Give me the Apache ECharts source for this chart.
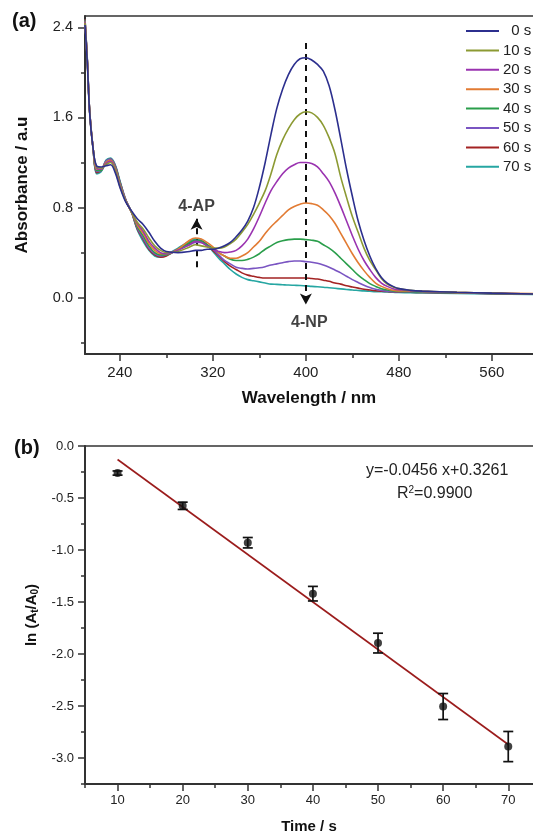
<!DOCTYPE html>
<html>
<head>
<meta charset="utf-8">
<script src="https://cdn.jsdelivr.net/npm/echarts@6/dist/echarts.min.js"></script>
<style>html,body{margin:0;padding:0;background:#fff}#c{width:533px;height:835px}</style>
</head>
<body>
<div id="c"></div>
<script>
// ---------- (a) UV-vis spectra ----------
const wavelengths = [210,212,214,217,220,224,228,232,236,240,245,250,255,260,265,270,275,280,290,300,305,310,315,320,325,330,335,340,345,350,355,360,365,370,375,380,385,390,395,400,405,410,415,420,425,430,435,440,445,450,455,460,465,470,475,480,490,500,530,560,600];
const seriesNames = ['0 s','10 s','20 s','30 s','40 s','50 s','60 s','70 s'];
const abs0s  = [2.42,2.08,1.64,1.32,1.17, 1.16,1.17,1.18,1.11,0.98, 0.85,0.77,0.70,0.65,0.58, 0.50,0.44,0.41,0.40,0.41, 0.42,0.42,0.43,0.43,0.44, 0.46,0.49,0.54,0.60,0.68, 0.80,0.98,1.20,1.45,1.68, 1.85,1.98,2.07,2.12,2.13, 2.11,2.07,2.01,1.88,1.67, 1.41,1.14,0.90,0.68,0.51, 0.37,0.26,0.18,0.13,0.10, 0.08,0.065,0.058,0.048,0.040, 0.032];
const abs10s = [2.44,2.09,1.65,1.32,1.16, 1.15,1.18,1.20,1.13,0.99, 0.86,0.76,0.67,0.61,0.53, 0.46,0.42,0.40,0.41,0.45, 0.47,0.46,0.45,0.44,0.44, 0.45,0.48,0.52,0.58,0.65, 0.74,0.84,0.95,1.10,1.27, 1.40,1.50,1.58,1.63,1.65, 1.64,1.60,1.53,1.42,1.28, 1.07,0.89,0.72,0.58,0.44, 0.33,0.25,0.17,0.12,0.095, 0.08,0.065,0.058,0.047,0.040, 0.032];
const abs20s = [2.45,2.10,1.65,1.32,1.15, 1.14,1.19,1.21,1.14,1.00, 0.86,0.76,0.66,0.59,0.50, 0.44,0.40,0.39,0.42,0.47, 0.50,0.49,0.46,0.43,0.41, 0.40,0.405,0.42,0.46,0.52, 0.61,0.72,0.84,0.95,1.03, 1.10,1.15,1.18,1.20,1.20, 1.19,1.16,1.10,1.03,0.93, 0.81,0.68,0.55,0.43,0.33, 0.25,0.18,0.13,0.10,0.08, 0.07,0.062,0.056,0.046,0.040, 0.032];
const abs30s = [2.45,2.10,1.65,1.32,1.14, 1.14,1.20,1.22,1.15,1.01, 0.86,0.76,0.645,0.57,0.48, 0.42,0.39,0.39,0.43,0.51, 0.53,0.52,0.49,0.45,0.40, 0.37,0.35,0.35,0.37,0.40, 0.45,0.50,0.57,0.63,0.68, 0.73,0.78,0.81,0.83,0.84, 0.835,0.82,0.78,0.73,0.66, 0.57,0.48,0.39,0.31,0.24, 0.18,0.13,0.10,0.08,0.066, 0.06,0.058,0.055,0.047,0.042, 0.036];
const abs40s = [2.46,2.10,1.65,1.32,1.13, 1.13,1.20,1.22,1.16,1.02, 0.86,0.76,0.63,0.55,0.46, 0.40,0.38,0.38,0.43,0.49, 0.51,0.50,0.47,0.44,0.40, 0.37,0.34,0.33,0.33,0.34, 0.36,0.39,0.43,0.46,0.49, 0.505,0.515,0.52,0.52,0.515, 0.51,0.50,0.47,0.44,0.40, 0.35,0.30,0.25,0.20,0.16, 0.125,0.10,0.08,0.068,0.06, 0.056,0.052,0.05,0.044,0.038, 0.03];
const abs50s = [2.46,2.11,1.66,1.32,1.12, 1.13,1.21,1.23,1.17,1.03, 0.87,0.76,0.62,0.53,0.44, 0.39,0.37,0.38,0.43,0.47, 0.49,0.49,0.46,0.43,0.38, 0.33,0.30,0.27,0.26,0.255, 0.26,0.265,0.275,0.29,0.30, 0.31,0.32,0.325,0.325,0.32, 0.315,0.305,0.29,0.27,0.245, 0.22,0.19,0.16,0.135,0.11, 0.09,0.075,0.065,0.058,0.054, 0.052,0.05,0.048,0.043,0.037, 0.03];
const abs60s = [2.47,2.11,1.66,1.32,1.11, 1.13,1.21,1.23,1.17,1.03, 0.87,0.76,0.61,0.52,0.43, 0.38,0.36,0.37,0.43,0.48, 0.50,0.50,0.47,0.42,0.37, 0.32,0.28,0.25,0.22,0.20, 0.19,0.18,0.175,0.175,0.175, 0.175,0.175,0.175,0.175,0.175, 0.17,0.165,0.155,0.145,0.13, 0.12,0.105,0.095,0.085,0.075, 0.068,0.062,0.058,0.055,0.052, 0.05,0.048,0.046,0.042,0.036, 0.03];
const abs70s = [2.47,2.12,1.66,1.32,1.10, 1.12,1.22,1.24,1.18,1.04, 0.87,0.76,0.60,0.50,0.42, 0.37,0.36,0.38,0.44,0.50, 0.52,0.51,0.47,0.41,0.35, 0.30,0.25,0.21,0.18,0.16, 0.15,0.14,0.13,0.12,0.118, 0.115,0.112,0.11,0.108,0.105, 0.10,0.097,0.093,0.088,0.083, 0.078,0.073,0.068,0.064,0.06, 0.057,0.054,0.052,0.05,0.048, 0.046,0.044,0.042,0.038,0.033, 0.027];
const spectra = [abs0s,abs10s,abs20s,abs30s,abs40s,abs50s,abs60s,abs70s];
const specColors = ['#2c2f8e','#8c9a33','#9a33b0','#e27b33','#2a9e4b','#7a55c2','#a32323','#26a6a2'];
const wlRange = [210, 595.4];
const wlTicks = [240,320,400,480,560];
const wlMinor = [280,360,440,520];
const absRange = [-0.5, 2.5];
const absTicks = [0.0,0.8,1.6,2.4];
const absMinor = [-0.4,0.4,1.2,2.0];
// arrows: [x, yStart, yEnd]
const arrows = [[400,2.26,-0.06],[306,0.27,0.70]];
const arrowLabels = [[306,0.81,'4-AP'],[403,-0.225,'4-NP']];

// ---------- (b) kinetics ----------
const times = [10,20,30,40,50,60,70];
const lnRatio = [-0.26,-0.575,-0.93,-1.42,-1.895,-2.505,-2.89];
const lnErr = [0.02,0.035,0.05,0.07,0.095,0.125,0.145];
const fitX = [10,70];
const fitY = [-0.13,-2.87];
const tRange = [5, 73.8];
const tTicks = [10,20,30,40,50,60,70];
const tMinor = [5,15,25,35,45,55,65];
const lnRange = [-3.25, 0];
const lnTicks = [0,-0.5,-1.0,-1.5,-2.0,-2.5,-3.0];
const lnMinor = [-0.25,-0.75,-1.25,-1.75,-2.25,-2.75,-3.25];
const fitText1 = 'y=-0.0456 x+0.3261';

const FONT = '"Liberation Sans", Arial, sans-serif';
const AX = '#333';

const chart = echarts.init(document.getElementById('c'), null, {renderer:'canvas'});

function majorAxis(extra){
  return Object.assign({
    type:'value',
    axisLine:{show:true, onZero:false, lineStyle:{color:AX, width:2}},
    axisTick:{show:true, inside:false, length:7, lineStyle:{color:AX, width:1.5}},
    splitLine:{show:false},
    axisLabel:{color:'#222', fontFamily:FONT}
  }, extra);
}
function minorAxis(extra){
  return Object.assign({
    type:'value',
    axisLine:{show:false, onZero:false},
    axisTick:{show:true, inside:false, length:4, lineStyle:{color:AX, width:1.5}},
    splitLine:{show:false},
    axisLabel:{show:false}
  }, extra);
}
function frameAxis(extra){
  return Object.assign({
    type:'value', position:'top',
    axisLine:{show:true, onZero:false, lineStyle:{color:AX, width:1.6}},
    axisTick:{show:false}, axisLabel:{show:false}, splitLine:{show:false}
  }, extra);
}

const specSeries = spectra.map((arr, i) => ({
  name: seriesNames[i],
  type:'line',
  xAxisIndex:0, yAxisIndex:0,
  data: wavelengths.map((w, j) => [w, arr[j]]),
  showSymbol:false,
  smooth:0.35,
  lineStyle:{width:1.6, color:specColors[i]},
  itemStyle:{color:specColors[i]},
  z: 10 - i,
  silent:true
}));

specSeries[0].markLine = {
  silent:true,
  symbol:['none','arrow'],
  symbolSize:[9,11],
  label:{show:false},
  lineStyle:{type:[6,5], color:'#111', width:2},
  data: arrows.map(a => [{coord:[a[0],a[1]], symbol:'none'},{coord:[a[0],a[2]], symbol:'arrow'}])
};

const labelSeries = {
  type:'scatter', xAxisIndex:0, yAxisIndex:0,
  symbolSize:0,
  data: arrowLabels,
  label:{show:true, position:'inside', formatter:p=>p.value[2], fontSize:16, fontWeight:'bold', color:'#111', fontFamily:FONT},
  silent:true, z:20
};

const option = {
  animation:false,
  backgroundColor:'#fff',
  textStyle:{fontFamily:FONT},
  grid:[
    {left:85, top:16, right:0, bottom:481, containLabel:false},
    {left:85, top:446, right:0, bottom:49, containLabel:false}
  ],
  legend:{
    data:seriesNames,
    orient:'vertical',
    left:466, top:23,
    padding:0,
    icon:'rect', itemWidth:33, itemHeight:2,
    itemGap:3.4,
    formatter: n => n.length < 4 ? '\u2007' + n : n,
    textStyle:{fontSize:15, color:'#222', fontFamily:FONT, lineHeight:16, padding:[0,0,0,-1]},
    selectedMode:false
  },
  xAxis:[
    majorAxis({gridIndex:0, min:wlRange[0], max:wlRange[1], position:'bottom',
      name:'Wavelength / nm', nameLocation:'middle', nameGap:36,
      nameTextStyle:{fontSize:17, fontWeight:'bold', color:'#111', fontFamily:FONT},
      axisTick:{show:true, inside:false, length:7, lineStyle:{color:AX, width:1.5}, customValues:wlTicks},
      axisLabel:{color:'#222', fontFamily:FONT, fontSize:15, margin:11, customValues:wlTicks}}),
    minorAxis({gridIndex:0, min:wlRange[0], max:wlRange[1], position:'bottom',
      axisTick:{show:true, inside:false, length:4, lineStyle:{color:AX, width:1.5}, customValues:wlMinor}}),
    majorAxis({gridIndex:1, min:tRange[0], max:tRange[1], position:'bottom',
      name:'Time / s', nameLocation:'middle', nameGap:35,
      nameTextStyle:{fontSize:15, fontWeight:'bold', color:'#111', fontFamily:FONT},
      axisTick:{show:true, inside:false, length:7, lineStyle:{color:AX, width:1.5}, customValues:tTicks},
      axisLabel:{color:'#222', fontFamily:FONT, fontSize:13, margin:10, customValues:tTicks}}),
    minorAxis({gridIndex:1, min:tRange[0], max:tRange[1], position:'bottom',
      axisTick:{show:true, inside:false, length:4, lineStyle:{color:AX, width:1.5}, customValues:tMinor}}),
    frameAxis({gridIndex:0, min:wlRange[0], max:wlRange[1]}),
    frameAxis({gridIndex:1, min:tRange[0], max:tRange[1]})
  ],
  yAxis:[
    majorAxis({gridIndex:0, min:absRange[0], max:absRange[1], position:'left',
      name:'Absorbance / a.u', nameLocation:'middle', nameGap:54, nameRotate:90,
      nameTextStyle:{fontSize:17, fontWeight:'bold', color:'#111', fontFamily:FONT},
      axisTick:{show:true, inside:false, length:7, lineStyle:{color:AX, width:1.5}, customValues:absTicks},
      axisLabel:{color:'#222', fontFamily:FONT, fontSize:14.5, margin:12, customValues:absTicks, formatter:v=>v.toFixed(1)}}),
    minorAxis({gridIndex:0, min:absRange[0], max:absRange[1], position:'left',
      axisTick:{show:true, inside:false, length:4, lineStyle:{color:AX, width:1.5}, customValues:absMinor}}),
    majorAxis({gridIndex:1, min:lnRange[0], max:lnRange[1], position:'left',
      name:'ln (A{s|t}/A{s|0})', nameLocation:'middle', nameGap:41, nameRotate:90,
      nameTextStyle:{fontSize:15, fontWeight:'bold', color:'#111', fontFamily:FONT,
        rich:{s:{fontSize:10, fontWeight:'bold', color:'#111', verticalAlign:'bottom', padding:[8,0,0,0], fontFamily:FONT}}},
      axisTick:{show:true, inside:false, length:7, lineStyle:{color:AX, width:1.5}, customValues:lnTicks},
      axisLabel:{color:'#222', fontFamily:FONT, fontSize:13, margin:11, customValues:lnTicks, formatter:v=>v.toFixed(1)}}),
    minorAxis({gridIndex:1, min:lnRange[0], max:lnRange[1], position:'left',
      axisTick:{show:true, inside:false, length:4, lineStyle:{color:AX, width:1.5}, customValues:lnMinor}})
  ],
  series: specSeries.concat([
    labelSeries,
    {
      type:'line', xAxisIndex:2, yAxisIndex:2,
      data: fitX.map((x,i)=>[x, fitY[i]]),
      showSymbol:false, lineStyle:{color:'#9b1c1c', width:1.6}, silent:true, z:3
    },
    {
      type:'custom', xAxisIndex:2, yAxisIndex:2,
      data: times.map((t,i)=>[t, lnRatio[i], lnErr[i]]),
      encode:{x:0, y:1},
      renderItem:function(params, api){
        const x = api.value(0), y = api.value(1), e = api.value(2);
        const top = api.coord([x, y + e]);
        const bot = api.coord([x, y - e]);
        const hw = 5;
        const st = {stroke:'#111', lineWidth:1.7};
        return {type:'group', children:[
          {type:'line', shape:{x1:top[0], y1:top[1], x2:bot[0], y2:bot[1]}, style:st},
          {type:'line', shape:{x1:top[0]-hw, y1:top[1], x2:top[0]+hw, y2:top[1]}, style:st},
          {type:'line', shape:{x1:bot[0]-hw, y1:bot[1], x2:bot[0]+hw, y2:bot[1]}, style:st}
        ]};
      },
      silent:true, z:4
    },
    {
      type:'scatter', xAxisIndex:2, yAxisIndex:2,
      data: times.map((t,i)=>[t, lnRatio[i]]),
      symbol:'circle', symbolSize:8, itemStyle:{color:'#111'}, silent:true, z:5
    }
  ]),
  graphic:[
    {type:'text', left:12, top:11, style:{text:'(a)', font:'bold 20px "Liberation Sans", Arial, sans-serif', fill:'#111'}},
    {type:'text', left:14, top:438, style:{text:'(b)', font:'bold 20px "Liberation Sans", Arial, sans-serif', fill:'#111'}},
    {type:'text', left:366, top:463, style:{text:fitText1, font:'16px "Liberation Sans", Arial, sans-serif', fill:'#222'}},
    {type:'text', left:397, top:485, style:{
      rich:{n:{font:'16px "Liberation Sans", Arial, sans-serif', fill:'#222'}, sup:{font:'10px "Liberation Sans", Arial, sans-serif', fill:'#222', verticalAlign:'top', padding:[0,0,7,0]}},
      text:'{n|R}{sup|2}{n|=0.9900}'}}
  ]
};
chart.setOption(option);
</script>
</body>
</html>
